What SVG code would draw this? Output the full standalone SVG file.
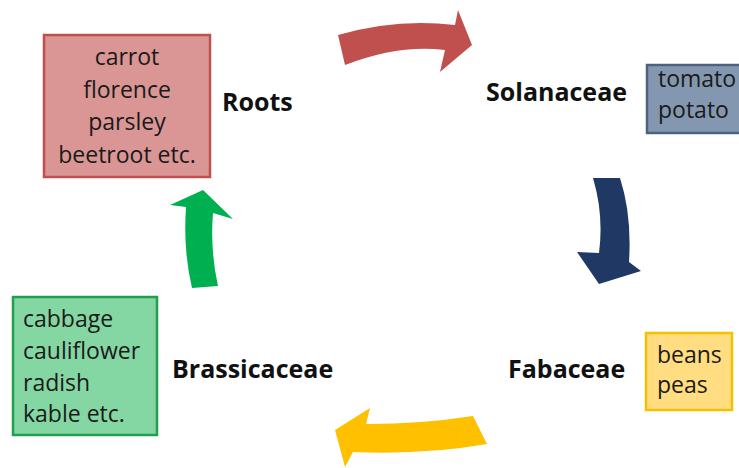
<svg xmlns="http://www.w3.org/2000/svg" width="739" height="468" viewBox="0 0 739 468">
<style>
.t{font-family:"Open Sans","Liberation Sans",sans-serif;font-size:23px;fill:#1a1a1a}
.b{font-family:"Open Sans","Liberation Sans",sans-serif;font-size:25px;font-weight:bold;fill:#111}
.box{stroke-width:2.5}
</style>
<rect width="739" height="468" fill="#fff"/>
<g id="roots">
<rect class="box" x="44" y="35" width="166" height="142" fill="#D99694" stroke="#C0504D"/>
<g class="t" text-anchor="middle">
<text x="127" y="65">carrot</text>
<text x="127" y="98">florence</text>
<text x="127" y="130">parsley</text>
<text x="127" y="163">beetroot etc.</text>
</g>
<text class="b" x="222" y="111">Roots</text>
</g>
<g id="solanaceae">
<rect class="box" x="647" y="65" width="100" height="68" fill="#8497B0" stroke="#4F6180"/>
<text class="t" x="658" y="87">tomato</text>
<text class="t" x="658" y="118">potato</text>
<text class="b" x="486" y="101">Solanaceae</text>
</g>
<g id="fabaceae">
<rect class="box" x="646" y="333" width="86" height="77" fill="#FFDD80" stroke="#F5C000"/>
<text class="t" x="657" y="363">beans</text>
<text class="t" x="657" y="393">peas</text>
<text class="b" x="508" y="378">Fabaceae</text>
</g>
<g id="brassicaceae">
<rect class="box" x="13" y="297" width="144" height="138" fill="#84D6A2" stroke="#1EA050"/>
<text class="t" x="23" y="327">cabbage</text>
<text class="t" x="23" y="359">cauliflower</text>
<text class="t" x="23" y="391">radish</text>
<text class="t" x="23" y="422">kable etc.</text>
<text class="b" x="172" y="378">Brassicaceae</text>
</g>
<g id="connectors">
<path d="M338,35 Q397,18 455,25 L458,10 L472,45 L440,72 L445,50 Q399,44 345,65 Z" fill="#C0504D"/>
<path d="M593,178 L620,178 Q632,215 629,262 L641,271 L599,284 L577,252 L599,253 Q604,215 593,178 Z" fill="#1F3864"/>
<path d="M473,416 Q422,424 366,424 L370,408 L335,430 L345,467 L353,452 Q425,455 487,444 Z" fill="#FFC000"/>
<path d="M192,288 Q183,250 186,207 L170,205 L203,190 L233,219 L213,213 Q210,250 218,286 Z" fill="#00B050"/>
</g>
</svg>
